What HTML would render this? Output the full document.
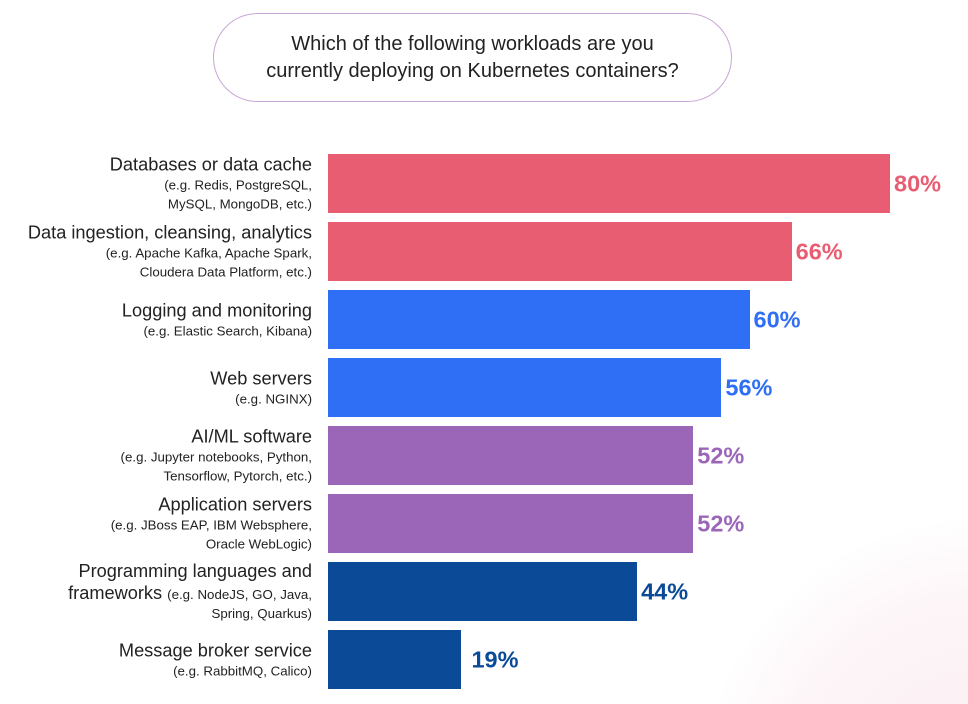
<!DOCTYPE html>
<html style="overflow:hidden;width:968px;height:704px"><head><meta charset="utf-8"><style>
body{margin:0;width:968px;height:704px;overflow:hidden;background:#fff;font-family:"Liberation Sans",sans-serif;position:relative;color:#222}
#clip{position:absolute;left:0;top:0;width:968px;height:704px;overflow:hidden}
#glow{position:absolute;left:700px;top:520px;width:560px;height:560px;border-radius:50%;background:radial-gradient(circle,#fbeef3 0%,#fdf5f8 50%,rgba(255,255,255,0) 72%)}
#title{position:absolute;left:213px;top:13px;width:519px;height:89px;border:1.5px solid #c9a6d6;border-radius:45px;text-align:center;font-size:20px;line-height:27px;box-sizing:border-box;padding-top:17px;color:#222}
.lab{position:absolute;right:656px;text-align:right;transform:translateY(-50%);white-space:nowrap}
.m{font-size:18.2px;line-height:22px}
.s{font-size:13.3px;line-height:19.5px}
.bar{position:absolute;height:59px}
.pct{position:absolute;font-size:23.5px;font-weight:bold;transform:translateY(-50%)}
</style></head><body>
<div id="clip"><div id="glow"></div></div>
<div id="title">Which of the following workloads are you<br>currently deploying on Kubernetes containers?</div>
<div id="chart"></div>
<script>
const categories=["Databases or data cache","Data ingestion, cleansing, analytics","Logging and monitoring","Web servers","AI/ML software","Application servers","Programming languages and","Message broker service"];
const subs=[["(e.g. Redis, PostgreSQL,","MySQL, MongoDB, etc.)"],["(e.g. Apache Kafka, Apache Spark,","Cloudera Data Platform, etc.)"],["(e.g. Elastic Search, Kibana)"],["(e.g. NGINX)"],["(e.g. Jupyter notebooks, Python,","Tensorflow, Pytorch, etc.)"],["(e.g. JBoss EAP, IBM Websphere,","Oracle WebLogic)"],["Spring, Quarkus)"],["(e.g. RabbitMQ, Calico)"]];
const values=[80,66,60,56,52,52,44,19];
const colors=["#e85d71","#e85d71","#2f6ff5","#2f6ff5","#9b66b8","#9b66b8","#0a4a97","#0a4a97"];
const x0=328,pxPer=562/80,top0=154,pitch=68,bh=59;
function xs(v){return x0+v*pxPer}
function ys(i){return top0+i*pitch}
const c=document.getElementById('chart');
values.forEach((v,i)=>{
 const b=document.createElement('div');b.className='bar';
 
 
 b.style.left=x0+'px';b.style.top=ys(i)+'px';b.style.width=(xs(v)-x0)+'px';b.style.background=colors[i];
 c.appendChild(b);
 const p=document.createElement('div');p.className='pct';
 
 
 p.textContent=v+'%';p.style.left=(xs(v)+(v<30?10:4))+'px';p.style.top=(ys(i)+bh/2)+'px';p.style.color=colors[i];
 c.appendChild(p);
 const l=document.createElement('div');l.className='lab';
 
 
 l.style.top=(ys(i)+bh/2)+'px';
 let h='<div class="m">'+categories[i]+'</div>';
 if(i===6){h+='<div class="m">frameworks <span class="s">(e.g. NodeJS, GO, Java,</span></div>';}
 subs[i].forEach(s=>h+='<div class="s">'+s+'</div>');
 l.innerHTML=h;c.appendChild(l);
});
</script>
</body></html>
